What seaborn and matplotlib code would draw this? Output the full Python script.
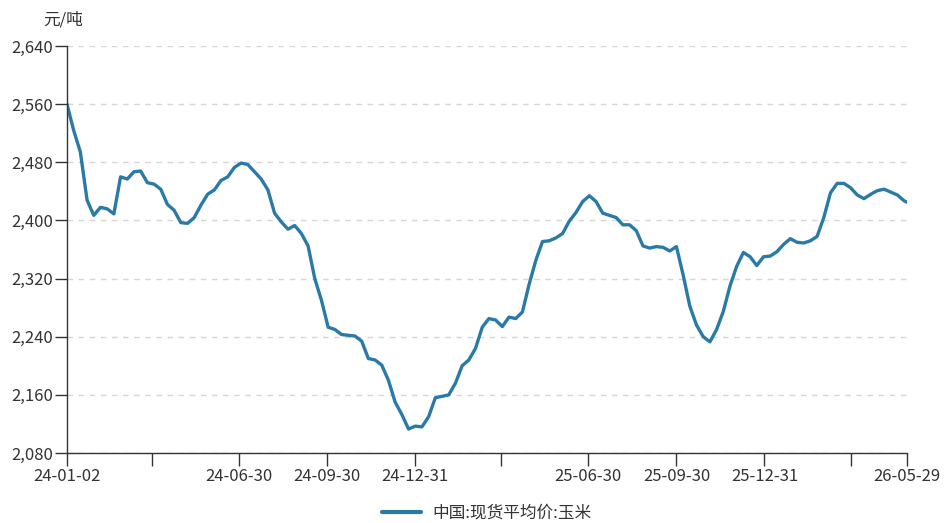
import pandas as pd
import seaborn as sns
import matplotlib.pyplot as plt
import matplotlib.ticker as mticker

sns.set_theme(style='white')
plt.rcParams['font.family'] = ['Noto Sans CJK SC', 'DejaVu Sans']
plt.rcParams['axes.unicode_minus'] = False

# weekly samples, last point is 2026-05-29
price = [2560, 2524, 2494, 2428, 2407, 2418, 2416, 2409, 2460, 2457,
         2467, 2468, 2452, 2450, 2443, 2422, 2414, 2397, 2396, 2404,
         2421, 2436, 2442, 2455, 2460, 2473, 2479, 2477, 2467, 2457,
         2442, 2410, 2398, 2388, 2393, 2382, 2365, 2320, 2290, 2253,
         2250, 2243, 2242, 2241, 2234, 2210, 2208, 2201, 2180, 2150,
         2133, 2113, 2117, 2116, 2130, 2156, 2158, 2160, 2176, 2200,
         2208, 2224, 2253, 2265, 2263, 2254, 2267, 2265, 2274, 2312,
         2345, 2371, 2372, 2376, 2382, 2399, 2411, 2426, 2434, 2426,
         2410, 2407, 2404, 2394, 2394, 2386, 2365, 2362, 2364, 2363,
         2358, 2364, 2325, 2282, 2256, 2240, 2233, 2250, 2275, 2310,
         2337, 2356, 2350, 2338, 2350, 2351, 2357, 2367, 2375, 2370,
         2369, 2372, 2378, 2404, 2438, 2451, 2451, 2445, 2435, 2430,
         2436, 2441, 2443, 2439, 2435, 2427, 2425]
dates = list(pd.date_range('2024-01-02', periods=len(price) - 1, freq='7D')) + [pd.Timestamp('2026-05-29')]

tick_dates = ['2024-01-02', '2024-03-31', '2024-06-30', '2024-09-30', '2024-12-31',
              '2025-03-31', '2025-06-30', '2025-09-30', '2025-12-31', '2026-03-31', '2026-05-29']
tick_labels = ['24-01-02', '', '24-06-30', '24-09-30', '24-12-31',
               '', '25-06-30', '25-09-30', '25-12-31', '', '26-05-29']
y_ticks = [2080, 2160, 2240, 2320, 2400, 2480, 2560, 2640]

df = pd.DataFrame({'date': dates, 'price': price, 'name': '中国:现货平均价:玉米'})

fig = plt.figure(figsize=(9.46, 5.23), dpi=100)
ax = fig.add_axes([0.0708, 0.1338, 0.888, 0.7782])
sns.lineplot(data=df, x='date', y='price', hue='name', palette=['#2a7aa6'], linewidth=2.4, ax=ax)

ax.set_xlim(pd.Timestamp('2024-01-02'), pd.Timestamp('2026-05-29'))
ax.set_ylim(2080, 2640)
ax.set_yticks(y_ticks)
ax.yaxis.set_major_formatter(mticker.FuncFormatter(lambda v, p: f'{int(v):,}'))
ax.set_xticks(pd.to_datetime(tick_dates))
ax.set_xticklabels(tick_labels)
ax.set_xlabel('')
ax.set_ylabel('')

for s in ['top', 'right']:
    ax.spines[s].set_visible(False)
for s in ['left', 'bottom']:
    ax.spines[s].set_color('#333333')
    ax.spines[s].set_linewidth(1.0)
ax.tick_params(axis='both', colors='#333333', labelcolor='#333333', labelsize=12,
               length=9, width=1, direction='out', left=True, bottom=True)
ax.tick_params(axis='y', pad=1)
ax.tick_params(axis='x', pad=2)
ax.grid(axis='y', linestyle=(0, (4, 4)), color='#d6d6d6', linewidth=1)
ax.grid(axis='x', visible=False)

fig.text(0.046, 0.962, '元/吨', fontsize=12, color='#333333', va='center')

leg = ax.legend(loc='upper center', bbox_to_anchor=(0.5, -0.09), frameon=False,
                fontsize=12, handlelength=2.3, handletextpad=0.7)
for t in leg.get_texts():
    t.set_color('#333333')
for l in leg.get_lines():
    l.set_linewidth(3)

fig.savefig('out.png', dpi=100)
